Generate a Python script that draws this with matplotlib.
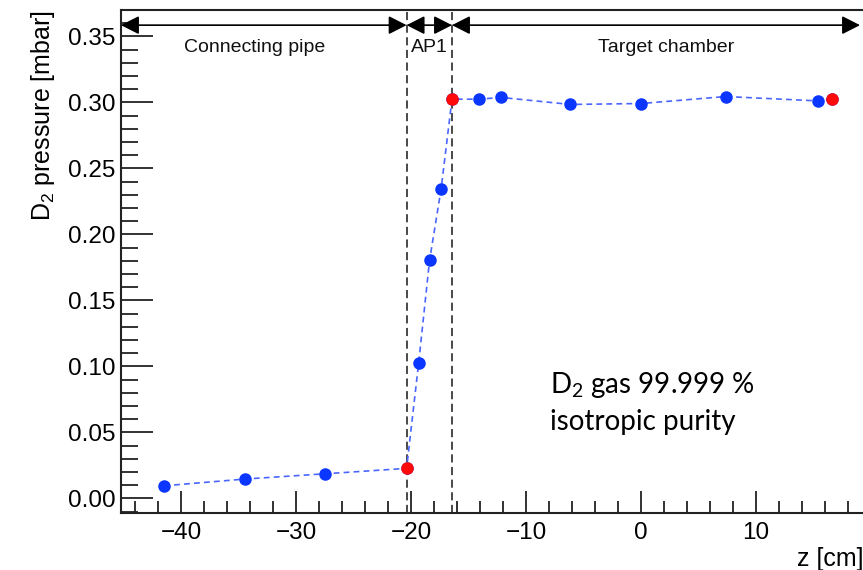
import matplotlib
matplotlib.use('Agg')
import matplotlib.pyplot as plt
from matplotlib.ticker import MultipleLocator, FormatStrFormatter

# pressure profile along the beam axis
z_cm = [-41.5, -34.5, -27.5, -20.4, -19.35, -18.4, -17.4, -16.45,
        -14.1, -12.15, -6.15, 0.0, 7.35, 15.4, 16.6]
p_mbar = [0.0095, 0.0146, 0.0186, 0.0227, 0.1027, 0.1805, 0.2343, 0.3025,
          0.3025, 0.3038, 0.2985, 0.2992, 0.3045, 0.3012, 0.3025]
red_z = [-20.4, -16.45, 16.6]
red_p = [0.0227, 0.3025, 0.3025]

# section boundaries and names
bounds = [-45.25, -20.4, -16.45, 19.05]
sections = ['Connecting pipe', 'AP1', 'Target chamber']
section_x = [-33.6, -18.45, 2.2]
walls = [-20.4, -16.45]

plt.rcParams['font.family'] = ['Liberation Sans', 'DejaVu Sans']

fig = plt.figure(figsize=(8.63, 5.70), dpi=100)
ax = fig.add_axes([0.1402, 0.1005, 0.8598, 0.8820])
ax.set_xlim(-45.25, 19.31)
ax.set_ylim(-0.0109, 0.3701)

for w in walls:
    ax.axvline(w, color='#3a3a3a', lw=1.3, ls=(0, (4.5, 2.5)), zorder=1)

ax.plot(z_cm, p_mbar, ls=(0, (3.5, 2.5)), color='#4a66ff', lw=1.2,
        marker='o', ms=8, mfc='#0a36ff', mec='#0a36ff', zorder=3)
ax.plot(red_z, red_p, ls='none', marker='o', ms=8, color='#ff0a0a', zorder=4)

y_arrow = 0.3586
for i in range(3):
    ax.annotate('', xy=(bounds[i], y_arrow), xytext=(bounds[i + 1], y_arrow),
                arrowprops=dict(arrowstyle='<|-|>,head_length=0.55,head_width=0.28',
                                mutation_scale=20, color='black', lw=1.2,
                                shrinkA=0, shrinkB=0), zorder=5)
    ax.text(section_x[i], 0.342, sections[i], ha='center', va='center',
            fontsize=14, color='#111111')

ax.text(-7.9, 0.0859, r'$\mathregular{D_2}$ gas 99.999 %', family='Lato',
        fontsize=20, ha='left', va='center')
ax.text(-7.9, 0.058, 'isotropic purity', family='Lato',
        fontsize=20, ha='left', va='center')

ax.xaxis.set_major_locator(MultipleLocator(10))
ax.xaxis.set_minor_locator(MultipleLocator(2))
ax.yaxis.set_major_locator(MultipleLocator(0.05))
ax.yaxis.set_minor_locator(MultipleLocator(0.01))
ax.yaxis.set_major_formatter(FormatStrFormatter('%.2f'))

ax.tick_params(which='both', direction='in', top=False, right=False,
               labelsize=17.5, width=1.3, color='#222222')
ax.tick_params(axis='x', which='major', length=16, pad=7)
ax.tick_params(axis='x', which='minor', length=9)
ax.tick_params(axis='y', which='major', length=23, pad=4)
ax.tick_params(axis='y', which='minor', length=12)

for s in ['left', 'bottom', 'top']:
    ax.spines[s].set_linewidth(1.5)
    ax.spines[s].set_color('#222222')
ax.spines['right'].set_visible(False)

ax.set_ylabel(r'$\mathregular{D_2}$ pressure [mbar]', fontsize=18,
              loc='top', labelpad=8)
ax.set_xlabel('z [cm]', fontsize=18, loc='right', labelpad=2)

fig.savefig('out.png', dpi=100)
